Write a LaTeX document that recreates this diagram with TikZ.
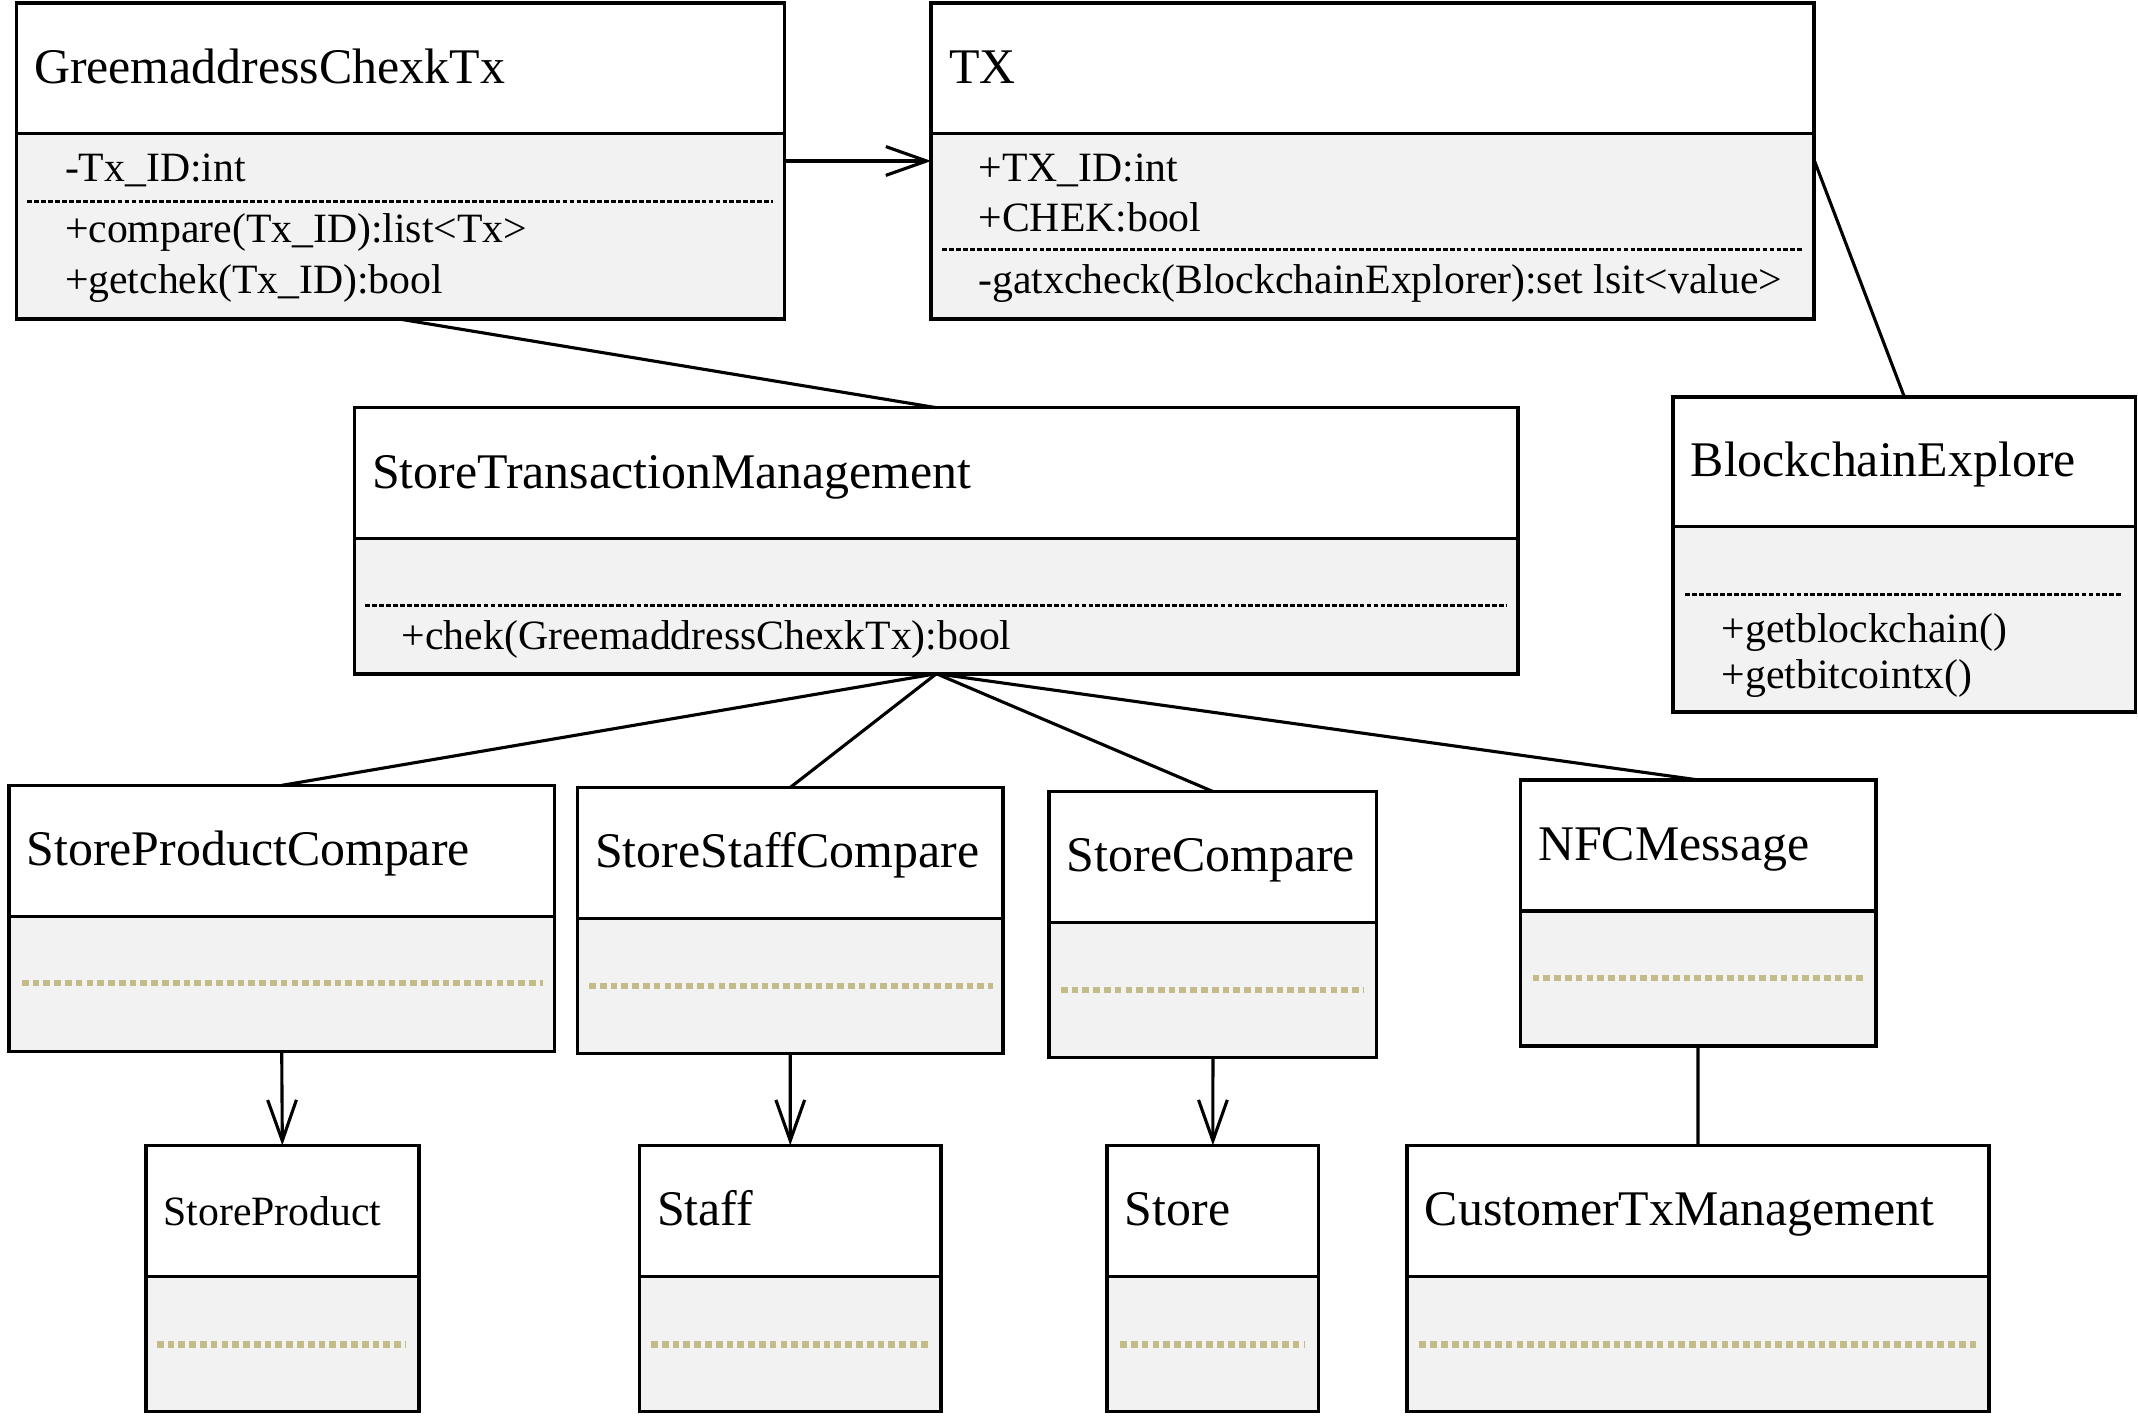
\documentclass[tikz,border=0pt]{standalone}
\usepackage{fontspec}
\setmainfont{Liberation Serif}
\usetikzlibrary{arrows.meta}

\definecolor{bodygray}{HTML}{F2F2F2}
\definecolor{dotolive}{HTML}{C4BC88}

\tikzset{
  head/.style={draw, line width=0.75pt, fill=white, anchor=north west, outer sep=0pt,
    inner xsep=3.7pt, align=left, text height=7pt, text depth=0.8pt,
    minimum height=0.96cm, font=\fontsize{10.4}{12}\selectfont},
  body/.style={draw, line width=0.75pt, fill=bodygray, anchor=north west, outer sep=0pt, inner sep=0pt},
  attr/.style={anchor=base west, inner sep=0pt, font=\fontsize{8.7}{10}\selectfont},
  sepline/.style={dash pattern=on 1pt off 0.45pt, line width=0.55pt},
  emptysep/.style={dotolive, dash pattern=on 1.4pt off 0.85pt, line width=1.3pt},
  assoc/.style={line width=0.65pt},
  nav/.style={line width=0.65pt, -{Straight Barb[length=8.5pt,width=6pt]}},
}

\begin{document}
\begin{tikzpicture}[x=0.01cm,y=-0.01cm]
\useasboundingbox (0,0) rectangle (1568,1043);

% top row
\node[head, text width=5.37cm] (greem) at (12,2) {GreemaddressChexkTx};
\node[body, minimum width=5.63cm, minimum height=1.36cm] (greemBody) at (greem.south west) {};
\node[attr] (greemId) at (47,133) {-Tx\_ID:int};
\draw[sepline] (20,148) -- (567,148);
\node[attr] (greemCompare) at (47,178) {+compare(Tx\_ID):list<Tx>};
\node[attr] (greemGet) at (47,215) {+getchek(Tx\_ID):bool};

\node[head, text width=6.21cm] (tx) at (683,2) {TX};
\node[body, minimum width=6.47cm, minimum height=1.36cm] (txBody) at (tx.south west) {};
\node[attr] (txId) at (717,133) {+TX\_ID:int};
\node[attr] (txChek) at (717,170) {+CHEK:bool};
\draw[sepline] (691,183) -- (1322,183);
\node[attr] (txGat) at (717,215) {-gatxcheck(BlockchainExplorer):set lsit<value>};

\node[head, text width=8.27cm] (stm) at (260,299) {StoreTransactionManagement};
\node[body, minimum width=8.53cm, minimum height=0.99cm] (stmBody) at (stm.south west) {};
\draw[sepline] (268,444) -- (1105,444);
\node[attr] (stmChek) at (294,476) {+chek(GreemaddressChexkTx):bool};

\node[head, text width=3.13cm, minimum height=0.95cm] (be) at (1227,291) {BlockchainExplore};
\node[body, minimum width=3.39cm, minimum height=1.36cm] (beBody) at (be.south west) {};
\draw[sepline] (1236,436) -- (1557,436);
\node[attr] (beChain) at (1262,471) {+getblockchain()};
\node[attr] (beBit) at (1262,505) {+getbitcointx()};

% compare row
\node[head, text width=3.74cm] (spc) at (6.5,576) {StoreProductCompare};
\node[body, minimum width=4.0cm, minimum height=0.99cm] (spcBody) at (spc.south west) {};
\draw[emptysep] (16,721) -- (398,721);

\node[head, text width=2.86cm] (ssc) at (423.5,577.5) {StoreStaffCompare};
\node[body, minimum width=3.12cm, minimum height=0.99cm] (sscBody) at (ssc.south west) {};
\draw[emptysep] (432,723) -- (728,723);

\node[head, text width=2.14cm] (sc) at (769.5,580.5) {StoreCompare};
\node[body, minimum width=2.4cm, minimum height=0.99cm] (scBody) at (sc.south west) {};
\draw[emptysep] (778,726) -- (1000,726);

\node[head, text width=2.345cm] (nfc) at (1115,572) {NFCMessage};
\node[body, minimum width=2.605cm, minimum height=0.99cm] (nfcBody) at (nfc.south west) {};
\draw[emptysep] (1124,717.5) -- (1367,717.5);

% bottom row
\node[head, text width=1.74cm, font=\fontsize{8.7}{10}\selectfont] (sp) at (107,840) {StoreProduct};
\node[body, minimum width=2.0cm, minimum height=0.99cm] (spBody) at (sp.south west) {};
\draw[emptysep] (115,986) -- (298,986);

\node[head, text width=1.95cm] (staff) at (469,840) {Staff};
\node[body, minimum width=2.21cm, minimum height=0.99cm] (staffBody) at (staff.south west) {};
\draw[emptysep] (477.5,986) -- (681.5,986);

\node[head, text width=1.29cm] (store) at (812,840) {Store};
\node[body, minimum width=1.55cm, minimum height=0.99cm] (storeBody) at (store.south west) {};
\draw[emptysep] (821.5,986) -- (957,986);

\node[head, text width=4.004cm] (ctm) at (1032,840) {CustomerTxManagement};
\node[body, minimum width=4.264cm, minimum height=0.99cm] (ctmBody) at (ctm.south west) {};
\draw[emptysep] (1041,986) -- (1450,986);

% connectors
\draw[nav] ([yshift=-0.2cm]greemBody.north east) -- ([yshift=-0.2cm]txBody.north west);
\draw[assoc] (greemBody.south) -- (stm.north);
\draw[assoc] ([yshift=-0.19cm]txBody.north east) -- (be.north);
\draw[assoc] (stmBody.south) -- (spc.north);
\draw[assoc] (stmBody.south) -- (ssc.north);
\draw[assoc] (stmBody.south) -- (sc.north);
\draw[assoc] (stmBody.south) -- (nfc.north);
\draw[nav] (spcBody.south) -- (sp.north);
\draw[nav] (sscBody.south) -- (staff.north);
\draw[nav] (scBody.south) -- (store.north);
\draw[assoc] (nfcBody.south) -- (ctm.north);

\end{tikzpicture}
\end{document}
